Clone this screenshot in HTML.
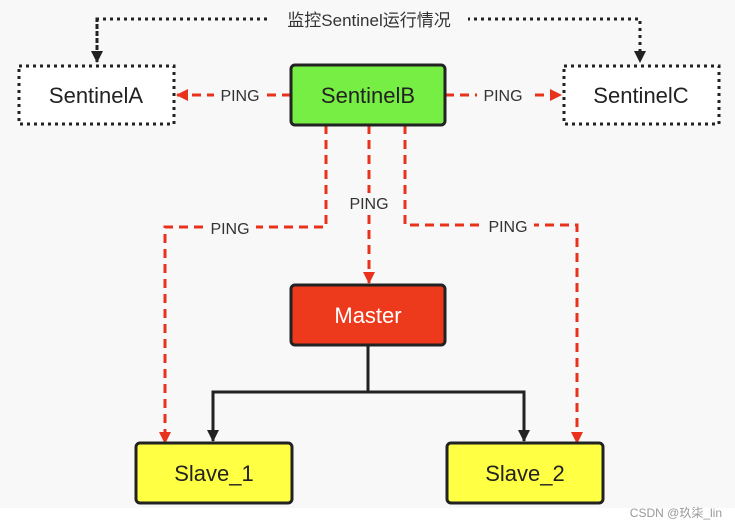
<!DOCTYPE html>
<html><head><meta charset="utf-8"><style>
body{margin:0;width:735px;height:525px;background:#fff;overflow:hidden}
svg{display:block}
text{font-family:"Liberation Sans","Noto Sans CJK SC",sans-serif}
</style></head><body>
<svg width="735" height="525" viewBox="0 0 735 525">
<defs>
<marker id="r" markerWidth="12" markerHeight="12" refX="11" refY="6" orient="auto" markerUnits="userSpaceOnUse"><path d="M0,0 L12,6 L0,12 Z" fill="#e8321c"/></marker>
<marker id="k" markerWidth="12" markerHeight="12" refX="11" refY="6" orient="auto" markerUnits="userSpaceOnUse"><path d="M0,0 L12,6 L0,12 Z" fill="#222"/></marker>
</defs>
<rect x="0" y="0" width="735" height="508" fill="#f8f8f8"/>
<path d="M97,62 V19 H640 V62" fill="none" stroke="#222" stroke-width="3" stroke-dasharray="3,4" marker-end="url(#k)"/>
<path d="M97,19 V62" fill="none" stroke="#222" stroke-width="3" stroke-dasharray="3,4" marker-end="url(#k)"/>
<rect x="270" y="8" width="198" height="22" fill="#f8f8f8"/>
<text x="369" y="26" font-size="17" text-anchor="middle" fill="#333">监控Sentinel运行情况</text>
<rect x="19" y="66" width="155" height="58" fill="#fff" stroke="#222" stroke-width="3" stroke-dasharray="3,4"/>
<text x="96" y="103" font-size="22" text-anchor="middle" fill="#222">SentinelA</text>
<rect x="564" y="66" width="155" height="58" fill="#fff" stroke="#222" stroke-width="3" stroke-dasharray="3,4"/>
<text x="641" y="103" font-size="22" text-anchor="middle" fill="#222">SentinelC</text>
<g fill="none" stroke="#e8321c" stroke-width="3" stroke-dasharray="9,6">
<path d="M291,95 H177" marker-end="url(#r)"/>
<path d="M445,95 H561" marker-end="url(#r)"/>
<path d="M326,125 V227 H165 V443" marker-end="url(#r)"/>
<path d="M369,125 V283" marker-end="url(#r)"/>
<path d="M405,125 V225 H577 V443" marker-end="url(#r)"/>
</g>
<g font-size="16" fill="#333" text-anchor="middle">
<rect x="214" y="85" width="52" height="20" fill="#f8f8f8"/><text x="240" y="101">PING</text>
<rect x="477" y="85" width="52" height="20" fill="#f8f8f8"/><text x="503" y="101">PING</text>
<rect x="204" y="218" width="52" height="20" fill="#f8f8f8"/><text x="230" y="234">PING</text>
<rect x="343" y="193" width="52" height="20" fill="#f8f8f8"/><text x="369" y="209">PING</text>
<rect x="482" y="216" width="52" height="20" fill="#f8f8f8"/><text x="508" y="232">PING</text>
</g>
<rect x="291" y="65" width="154" height="60" rx="4" fill="#77ee44" stroke="#222" stroke-width="3"/>
<text x="368" y="103" font-size="22" text-anchor="middle" fill="#222">SentinelB</text>
<rect x="291" y="285" width="154" height="60" rx="4" fill="#ee3a1c" stroke="#222" stroke-width="3"/>
<text x="368" y="323" font-size="22" text-anchor="middle" fill="#fff">Master</text>
<path d="M368,345 V392 H213 V441" fill="none" stroke="#222" stroke-width="3" marker-end="url(#k)"/>
<path d="M368,392 H524 V441" fill="none" stroke="#222" stroke-width="3" marker-end="url(#k)"/>
<rect x="136" y="443" width="156" height="60" rx="4" fill="#ffff44" stroke="#222" stroke-width="3"/>
<text x="214" y="481" font-size="22" text-anchor="middle" fill="#222">Slave_1</text>
<rect x="447" y="443" width="156" height="60" rx="4" fill="#ffff44" stroke="#222" stroke-width="3"/>
<text x="525" y="481" font-size="22" text-anchor="middle" fill="#222">Slave_2</text>
<text x="722" y="517" font-size="12" text-anchor="end" fill="#999">CSDN @玖柒_lin</text>
</svg>
</body></html>
